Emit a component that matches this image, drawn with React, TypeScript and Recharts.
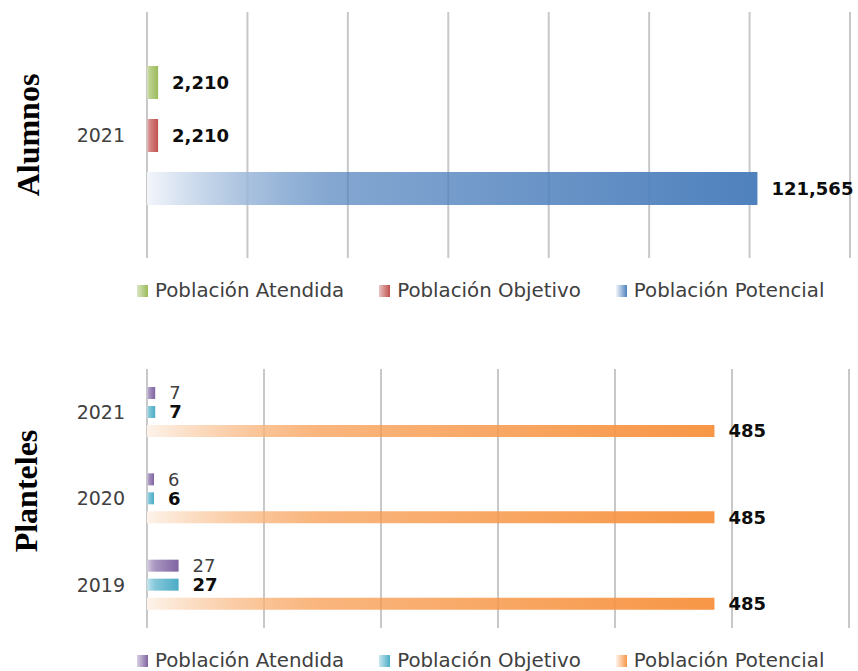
import React from 'react';
import { BarChart, Bar, XAxis, YAxis, CartesianGrid, LabelList } from 'recharts';

const seriesNames = ['Población Atendida', 'Población Objetivo', 'Población Potencial'];

const alumnosCategories = ['2021'];
const alumnosAtendida = [2210];
const alumnosObjetivo = [2210];
const alumnosPotencial = [121565];
const alumnosTicks = [0, 20000, 40000, 60000, 80000, 100000, 120000, 140000];

const plantelesCategories = ['2021', '2020', '2019'];
const plantelesAtendida = [7, 6, 27];
const plantelesObjetivo = [7, 6, 27];
const plantelesPotencial = [485, 485, 485];
const plantelesTicks = [0, 100, 200, 300, 400, 500, 600];

const alumnosColors = ['#9BBB59', '#C0504D', '#4F81BD'];
const alumnosLight = ['#d9e6c3', '#e8c3c2', '#f3f6fb'];
const plantelesColors = ['#8064A2', '#4BACC6', '#F79646'];
const plantelesLight = ['#d9d0e4', '#c9e8f0', '#fdf3ea'];

const alumnosData = alumnosCategories.map((c, i) => ({
  cat: c,
  atendida: alumnosAtendida[i],
  objetivo: alumnosObjetivo[i],
  potencial: alumnosPotencial[i],
}));
const plantelesData = plantelesCategories.map((c, i) => ({
  cat: c,
  atendida: plantelesAtendida[i],
  objetivo: plantelesObjetivo[i],
  potencial: plantelesPotencial[i],
}));

const FONT = '"DejaVu Sans", Verdana, sans-serif';
const fmt = (v: any) => Number(v).toLocaleString('en-US');

function Grad({ id, light, color }: { id: string; light: string; color: string }) {
  return (
    <linearGradient id={id} x1="0" y1="0" x2="1" y2="0">
      <stop offset="0%" stopColor={light} />
      <stop offset="30%" stopColor={color} stopOpacity={0.7} />
      <stop offset="100%" stopColor={color} />
    </linearGradient>
  );
}

function Legend({ colors, lights, top }: { colors: string[]; lights: string[]; top: number }) {
  return (
    <div
      style={{
        position: 'absolute',
        left: 137,
        top,
        display: 'flex',
        alignItems: 'center',
        gap: 35,
        fontFamily: FONT,
        fontSize: 19.8,
        color: '#404040',
        whiteSpace: 'nowrap',
      }}
    >
      {seriesNames.map((n, i) => (
        <div key={n} style={{ display: 'flex', alignItems: 'center', gap: 7 }}>
          <div
            style={{
              width: 11,
              height: 12,
              background: `linear-gradient(to right, ${lights[i]}, ${colors[i]})`,
            }}
          />
          <span>{n}</span>
        </div>
      ))}
    </div>
  );
}

export default function App() {
  return (
    <div style={{ position: 'absolute', left: 0, top: 0, width: 858, height: 671, background: '#fff', overflow: 'hidden' }}>
      <svg width={0} height={0} style={{ position: 'absolute' }}>
        <defs>
          {alumnosColors.map((c, i) => (
            <Grad key={'a' + i} id={'ga' + i} light={alumnosLight[i]} color={c} />
          ))}
          {plantelesColors.map((c, i) => (
            <Grad key={'p' + i} id={'gp' + i} light={plantelesLight[i]} color={c} />
          ))}
        </defs>
      </svg>

      <div style={{ position: 'absolute', left: 0, top: 0 }}>
        <BarChart
          width={858}
          height={330}
          data={alumnosData}
          layout="vertical"
          margin={{ top: 12, right: 8, left: 0, bottom: 72 }}
          barSize={33}
          barGap={20}
        >
          <CartesianGrid horizontal={false} stroke="#c8c8c8" strokeWidth={2} />
          <XAxis type="number" domain={[0, 140000]} ticks={alumnosTicks} hide />
          <YAxis
            type="category"
            dataKey="cat"
            width={147}
            axisLine={false}
            tickLine={false}
            tickSize={0}
            tickMargin={22}
            tick={{ fill: '#404040', fontSize: 19, fontFamily: FONT }}
          />
          <Bar dataKey="atendida" name={seriesNames[0]} fill="url(#ga0)" isAnimationActive={false}>
            <LabelList dataKey="atendida" position="right" offset={14} formatter={fmt}
              style={{ fill: '#0d0d0d', fontWeight: 'bold', fontSize: 18, fontFamily: FONT }} />
          </Bar>
          <Bar dataKey="objetivo" name={seriesNames[1]} fill="url(#ga1)" isAnimationActive={false}>
            <LabelList dataKey="objetivo" position="right" offset={14} formatter={fmt}
              style={{ fill: '#0d0d0d', fontWeight: 'bold', fontSize: 18, fontFamily: FONT }} />
          </Bar>
          <Bar dataKey="potencial" name={seriesNames[2]} fill="url(#ga2)" isAnimationActive={false}>
            <LabelList dataKey="potencial" position="right" offset={14} formatter={fmt}
              style={{ fill: '#0d0d0d', fontWeight: 'bold', fontSize: 18, fontFamily: FONT }} />
          </Bar>
        </BarChart>
      </div>
      <Legend colors={alumnosColors} lights={alumnosLight} top={279} />

      <div style={{ position: 'absolute', left: 0, top: 330 }}>
        <BarChart
          width={858}
          height={341}
          data={plantelesData}
          layout="vertical"
          margin={{ top: 39, right: 9, left: 0, bottom: 43 }}
          barSize={12}
          barGap={7}
        >
          <CartesianGrid horizontal={false} stroke="#c8c8c8" strokeWidth={2} />
          <XAxis type="number" domain={[0, 600]} ticks={plantelesTicks} hide />
          <YAxis
            type="category"
            dataKey="cat"
            width={147}
            axisLine={false}
            tickLine={false}
            tickSize={0}
            tickMargin={22}
            tick={{ fill: '#404040', fontSize: 19, fontFamily: FONT }}
          />
          <Bar dataKey="atendida" name={seriesNames[0]} fill="url(#gp0)" isAnimationActive={false}>
            <LabelList dataKey="atendida" position="right" offset={14} formatter={fmt}
              style={{ fill: '#404040', fontSize: 18, fontFamily: FONT }} />
          </Bar>
          <Bar dataKey="objetivo" name={seriesNames[1]} fill="url(#gp1)" isAnimationActive={false}>
            <LabelList dataKey="objetivo" position="right" offset={14} formatter={fmt}
              style={{ fill: '#0d0d0d', fontWeight: 'bold', fontSize: 18, fontFamily: FONT }} />
          </Bar>
          <Bar dataKey="potencial" name={seriesNames[2]} fill="url(#gp2)" isAnimationActive={false}>
            <LabelList dataKey="potencial" position="right" offset={14} formatter={fmt}
              style={{ fill: '#0d0d0d', fontWeight: 'bold', fontSize: 18, fontFamily: FONT }} />
          </Bar>
        </BarChart>
      </div>
      <Legend colors={plantelesColors} lights={plantelesLight} top={649} />

      <svg width={60} height={671} style={{ position: 'absolute', left: 0, top: 0 }}>
        <text
          transform="translate(39,135) rotate(-90)"
          textAnchor="middle"
          fontFamily='"Liberation Serif", "Times New Roman", serif'
          fontWeight="bold"
          fontSize={32}
          fill="#000"
        >
          Alumnos
        </text>
        <text
          transform="translate(37,491) rotate(-90)"
          textAnchor="middle"
          fontFamily='"Liberation Serif", "Times New Roman", serif'
          fontWeight="bold"
          fontSize={32}
          fill="#000"
        >
          Planteles
        </text>
      </svg>
    </div>
  );
}
